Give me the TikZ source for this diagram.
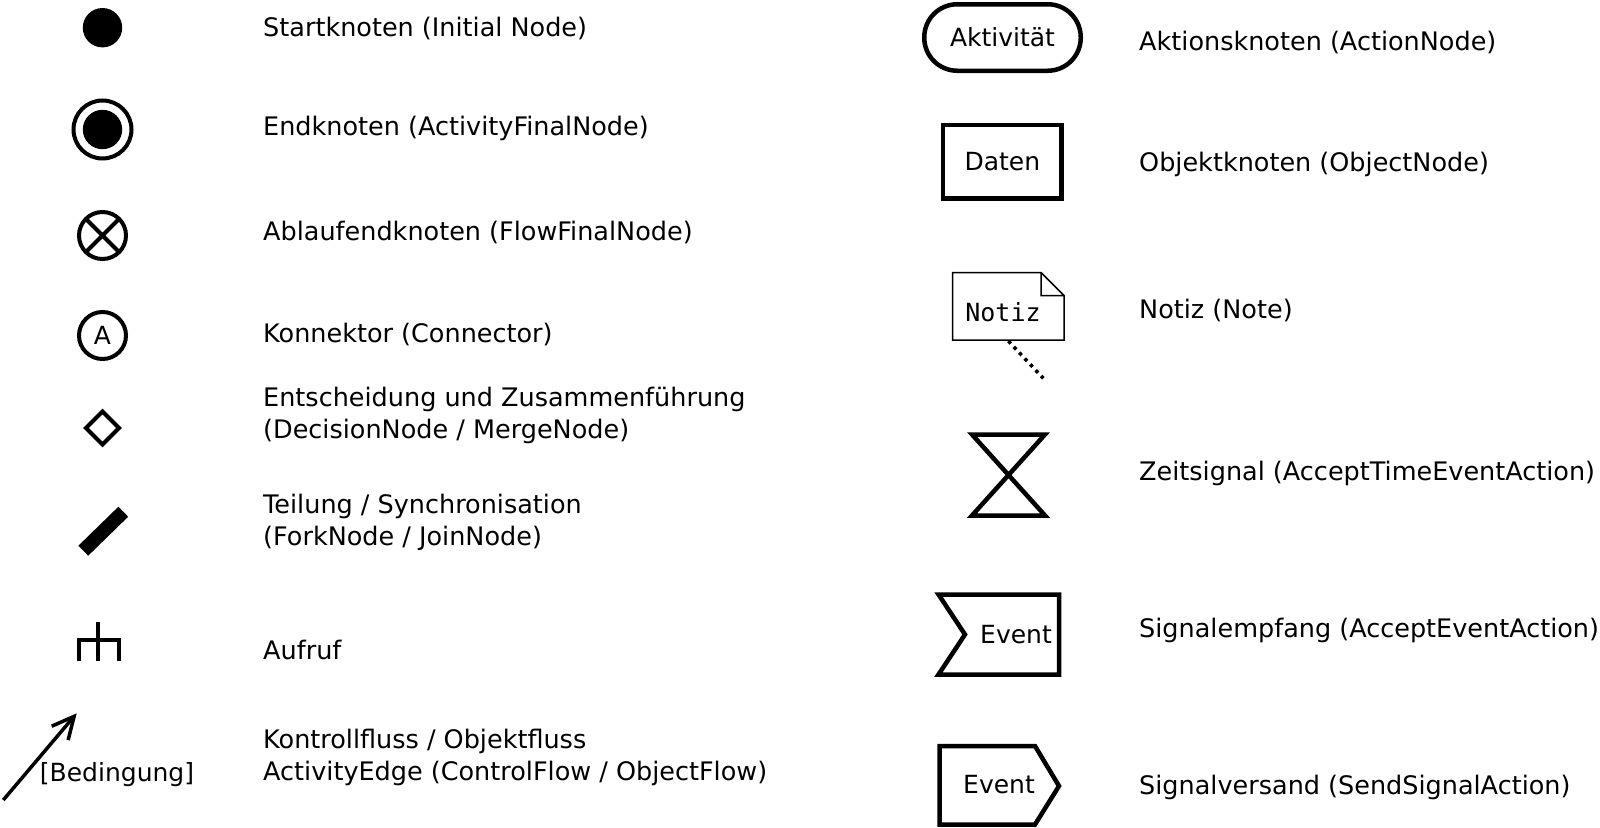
\documentclass[tikz,border=0pt]{standalone}
\usepackage{fontspec}
\setmainfont{DejaVu Sans}
\setmonofont{DejaVu Sans Mono}
\usetikzlibrary{arrows.meta}
\tikzset{
  lbl/.style={anchor=west,inner sep=0pt,align=left,font=\fontsize{25.5}{32}\selectfont},
  symtext/.style={inner sep=0pt,font=\fontsize{25}{30}\selectfont},
  sym/.style={line width=4pt},
  thicksym/.style={line width=4.5pt},
}
\begin{document}
\begin{tikzpicture}[x=1pt,y=-1pt,>={Straight Barb[length=22pt,width=21.5pt]}]
  \useasboundingbox (0,0) rectangle (1600,827);
  % initial node
  \fill (102.5,27.7) circle (19.7pt);
  % activity final
  \draw[sym] (102.5,129.5) circle (29pt);
  \fill (102.5,129.5) circle (19.7pt);
  % flow final
  \draw[sym] (102.5,235.5) circle (23.5pt);
  \draw[sym] (85.9,218.9) -- (119.1,252.1) (85.9,252.1) -- (119.1,218.9);
  % connector
  \node[draw,circle,sym,minimum size=47pt,symtext] (konn) at (102.5,335.5) {A};
  % decision / merge
  \draw[sym] (102.5,411.5) -- (119,428) -- (102.5,444.5) -- (86,428) -- cycle;
  % fork / join
  \draw[line width=14pt] (83.3,550.7) -- (123.3,511.7);
  % call (rake)
  \draw[sym] (98.3,621.7) -- (98.3,661)
    (78.5,661) -- (78.5,640) -- (119,640) -- (119,661);
  % activity edge
  \coordinate (kantea) at (3.3,800);
  \coordinate (kanteb) at (76.7,713.3);
  \draw[->,line width=3.5pt] (kantea) -- (kanteb);
  \node[symtext] (bed) at (117,775) {[Bedingung]};
  % left labels
  \node[lbl] (lstart) at (263,28.5) {Startknoten (Initial Node)};
  \node[lbl] (lend) at (263,128.5) {Endknoten (ActivityFinalNode)};
  \node[lbl] (lablauf) at (263,232.6) {Ablaufendknoten (FlowFinalNode)};
  \node[lbl] (lkonn) at (263,334.6) {Konnektor (Connector)};
  \node[lbl] (lent) at (263,415.3)
    {Entscheidung und Zusammenführung\\(DecisionNode / MergeNode)};
  \node[lbl] (lteil) at (263,522.4)
    {Teilung / Synchronisation\\(ForkNode / JoinNode)};
  \node[lbl] (lauf) at (263,650) {Aufruf};
  \node[lbl] (lkante) at (263,757.1)
    {Kontrollfluss / Objektfluss\\ActivityEdge (ControlFlow / ObjectFlow)};
  % action
  \node[draw,thicksym,rounded corners=33pt,minimum width=156.5pt,
    minimum height=66.5pt,symtext] (akt) at (1002.5,37.5) {Aktivität};
  % object
  \node[draw,thicksym,minimum width=118.5pt,minimum height=73.7pt,
    symtext] (daten) at (1002.3,161.8) {Daten};
  % note
  \draw[line width=1.5pt] (952.5,272.5) -- (1041,272.5) -- (1064,295.5)
    -- (1064,340) -- (952.5,340) -- cycle
    (1041,272.5) -- (1041,295.5) -- (1064,295.5);
  \node[symtext,font=\fontsize{25}{30}\ttfamily] (notiz) at (1003,312) {Notiz};
  \coordinate (notiza) at (1008.3,341);
  \coordinate (notizb) at (1043.3,378.3);
  \draw[line width=3.5pt,dash pattern=on 3.5pt off 4.5pt] (notiza) -- (notizb);
  % time event
  \draw[thicksym] (972,434.5) -- (1045,434.5) -- (972,515.5) -- (1045,515.5) -- cycle;
  % accept event
  \draw[thicksym] (938.5,594.5) -- (1059,594.5) -- (1059,674.5) -- (938.5,674.5)
    -- (965,634.5) -- cycle;
  \node[symtext] (empf) at (1016,635) {Event};
  % send signal
  \draw[thicksym] (939.5,746) -- (1035,746) -- (1059,786) -- (1035,824.5)
    -- (939.5,824.5) -- cycle;
  \node[symtext] (vers) at (999,785) {Event};
  % right labels
  \node[lbl] (rakt) at (1139,42.8) {Aktionsknoten (ActionNode)};
  \node[lbl] (robj) at (1139,164.2) {Objektknoten (ObjectNode)};
  \node[lbl] (rnotiz) at (1139,310) {Notiz (Note)};
  \node[lbl] (rzeit) at (1139,473.4) {Zeitsignal (AcceptTimeEventAction)};
  \node[lbl] (rempf) at (1139,630.6) {Signalempfang (AcceptEventAction)};
  \node[lbl] (rvers) at (1139,787.7) {Signalversand (SendSignalAction)};
\end{tikzpicture}
\end{document}
